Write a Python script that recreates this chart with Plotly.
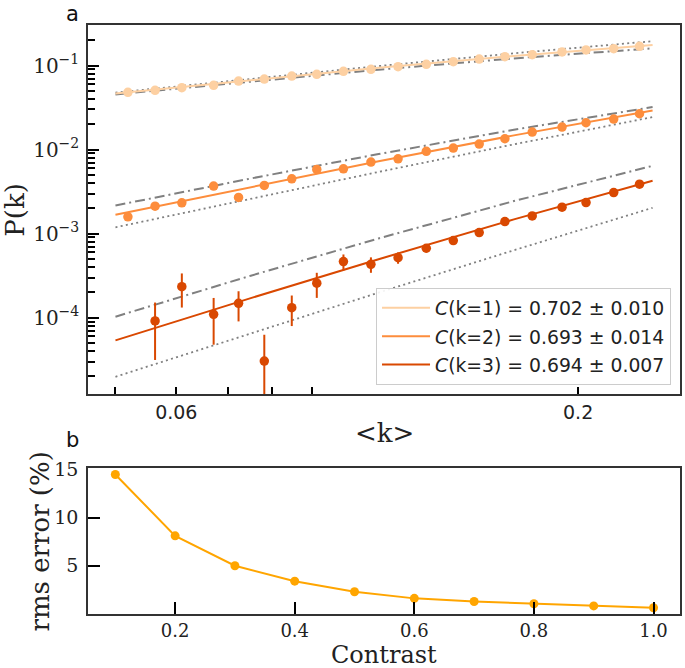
import math
import plotly.graph_objects as go

# ---------------- panel a data ----------------
k_mean = [0.0519, 0.0563, 0.0610, 0.0671, 0.0723, 0.0781, 0.0848, 0.0914, 0.0990, 0.1075,
          0.1166, 0.1269, 0.1376, 0.1487, 0.1606, 0.1743, 0.1906, 0.2048, 0.2225, 0.2404]
p_k1 = [0.0480, 0.0507, 0.0545, 0.0581, 0.0654, 0.0690, 0.0750, 0.0785, 0.0853, 0.0901,
        0.0968, 0.1033, 0.1110, 0.1194, 0.1272, 0.1345, 0.1449, 0.1531, 0.1585, 0.1694]
p_k2 = [1.585e-3, 2.124e-3, 2.327e-3, 3.677e-3, 2.698e-3, 3.750e-3, 4.49e-3, 5.81e-3, 5.90e-3, 7.10e-3,
        7.77e-3, 9.52e-3, 1.042e-2, 1.162e-2, 1.345e-2, 1.615e-2, 1.853e-2, 2.085e-2, 2.307e-2, 2.667e-2]
k_mean_3 = [0.0563, 0.0610, 0.0671, 0.0723, 0.0781, 0.0848, 0.0914, 0.0990, 0.1075, 0.1166,
            0.1269, 0.1376, 0.1487, 0.1606, 0.1743, 0.1906, 0.2048, 0.2225, 0.2404]
p_k3 = [9.14e-5, 2.34e-4, 1.097e-4, 1.483e-4, 3.05e-5, 1.315e-4, 2.57e-4, 4.65e-4, 4.32e-4, 5.18e-4,
        6.70e-4, 8.26e-4, 1.028e-3, 1.390e-3, 1.625e-3, 2.063e-3, 2.339e-3, 3.077e-3, 3.873e-3]
p_k3_err = [6.0e-5, 1.02e-4, 6.2e-5, 5.8e-5, 3.2e-5, 5.2e-5, 8.5e-5, 1.0e-4, 9.0e-5, 8.0e-5,
            7.0e-5, 7.0e-5, 7.0e-5, 7.0e-5, 7.0e-5, 7.0e-5, 7.0e-5, 7.0e-5, 7.0e-5]

curve_x = [0.05, 0.075, 0.11, 0.165, 0.25]
fit_k1 = [0.04645, 0.06719, 0.09375, 0.1302, 0.1758]
fit_k2 = [1.680e-3, 3.604e-3, 7.260e-3, 1.476e-2, 2.912e-2]
fit_k3 = [5.371e-5, 1.708e-4, 4.966e-4, 1.477e-3, 4.254e-3]
poisson_k1 = [0.04756, 0.06958, 0.09854, 0.1399, 0.1947]
poisson_k2 = [1.189e-3, 2.609e-3, 5.420e-3, 1.1542e-2, 2.434e-2]
poisson_k3 = [1.982e-5, 6.523e-5, 1.987e-4, 6.348e-4, 2.028e-3]
thermal_k1 = [0.04535, 0.0649, 0.08928, 0.1216, 0.16]
thermal_k2 = [2.16e-3, 4.528e-3, 8.847e-3, 1.722e-2, 3.2e-2]
thermal_k3 = [1.028e-4, 3.159e-4, 8.768e-4, 2.439e-3, 6.4e-3]

legend_labels = ["<i>C</i>(k=1) = 0.702 ± 0.010",
                 "<i>C</i>(k=2) = 0.693 ± 0.014",
                 "<i>C</i>(k=3) = 0.694 ± 0.007"]
colors = ["#fdd0a2", "#fd8d3c", "#d94801"]

x_tick_vals = [0.06, 0.2]
x_tick_text = ["0.06", "0.2"]
x_minor_vals = [0.05, 0.06, 0.07, 0.08, 0.09]
x_major_vals = [0.1, 0.2]
y_tick_vals = [1e-4, 1e-3, 1e-2, 1e-1]
y_tick_text = ["10<sup>−4</sup>", "10<sup>−3</sup>", "10<sup>−2</sup>", "10<sup>−1</sup>"]

# ---------------- panel b data ----------------
contrast = [0.1, 0.2, 0.3, 0.4, 0.5, 0.6, 0.7, 0.8, 0.9, 1.0]
rms_error = [14.45, 8.1, 5.0, 3.4, 2.3, 1.62, 1.3, 1.06, 0.84, 0.65]
b_x_ticks = [0.2, 0.4, 0.6, 0.8, 1.0]
b_x_text = ["0.2", "0.4", "0.6", "0.8", "1.0"]
b_y_ticks = [5, 10, 15]
b_y_text = ["5", "10", "15"]

SERIF = "DejaVu Serif"
SANS = "DejaVu Sans"
GRAY = "#808080"
AXC = "#333333"
TXT = "#222222"

fig = go.Figure()

# reference curves (gray)
for th, po in [(thermal_k1, poisson_k1), (thermal_k2, poisson_k2), (thermal_k3, poisson_k3)]:
    fig.add_trace(go.Scatter(x=curve_x, y=th, mode="lines", showlegend=False, hoverinfo="skip",
                             line=dict(color=GRAY, width=2, dash="10px,4px,2px,4px"),
                             xaxis="x", yaxis="y"))
    fig.add_trace(go.Scatter(x=curve_x, y=po, mode="lines", showlegend=False, hoverinfo="skip",
                             line=dict(color=GRAY, width=1.8, dash="2px,3.3px"),
                             xaxis="x", yaxis="y"))

# fits (legend)
for fit, col, lab, grp in [(fit_k1, colors[0], legend_labels[0], "g1"),
                           (fit_k2, colors[1], legend_labels[1], "g2"),
                           (fit_k3, colors[2], legend_labels[2], "g3")]:
    fig.add_trace(go.Scatter(x=curve_x, y=fit, mode="lines", name=lab, legendgroup=grp,
                             line=dict(color=col, width=2), xaxis="x", yaxis="y"))

# data points
fig.add_trace(go.Scatter(x=k_mean, y=p_k1, mode="markers", showlegend=False,
                         marker=dict(color=colors[0], size=9.5), xaxis="x", yaxis="y"))
fig.add_trace(go.Scatter(x=k_mean, y=p_k2, mode="markers", showlegend=False,
                         marker=dict(color=colors[1], size=9.5), xaxis="x", yaxis="y"))
fig.add_trace(go.Scatter(x=k_mean_3, y=p_k3, mode="markers", showlegend=False,
                         marker=dict(color=colors[2], size=9.5),
                         error_y=dict(type="data", array=p_k3_err, color=colors[2],
                                      thickness=2, width=0),
                         xaxis="x", yaxis="y"))

# panel b
fig.add_trace(go.Scatter(x=contrast, y=rms_error, mode="lines+markers", showlegend=False,
                         line=dict(color="#ffa500", width=2),
                         marker=dict(color="#ffa500", size=9),
                         xaxis="x2", yaxis="y2"))

xr = [math.log10(0.04605), math.log10(0.2714)]
yr = [-4.908, -0.518]
y_minor = [m * 10 ** e for e in range(-5, 0) for m in range(2, 10)
           if yr[0] < math.log10(m * 10 ** e) < yr[1]]

PLOT_L, PLOT_W, PLOT_T, PLOT_H = 88, 594, 25, 589


def px_x(px):
    return (px - PLOT_L) / PLOT_W


def px_y(py):
    return (PLOT_T + PLOT_H - py) / PLOT_H


fig.update_layout(
    width=685, height=668,
    margin=dict(l=88, r=3, t=25, b=54),
    paper_bgcolor="white", plot_bgcolor="white",
    hovermode=False,
    showlegend=True,
    legend=dict(x=px_x(377), y=px_y(288), xanchor="left", yanchor="top",
                bgcolor="rgba(255,255,255,0.9)", bordercolor="#cccccc", borderwidth=1,
                font=dict(family=SANS, size=18.8, color=TXT),
                itemwidth=48, traceorder="grouped", tracegroupgap=1),
    xaxis=dict(domain=[0, 1], anchor="y", type="log", range=xr,
               tickmode="array", tickvals=x_tick_vals, ticktext=x_tick_text,
               ticks="inside", ticklen=7, tickwidth=2, tickcolor="black",
               tickfont=dict(family=SANS, size=19, color=TXT),
               ticklabelstandoff=0,
               minor=dict(tickmode="array", tickvals=x_minor_vals, ticks="inside",
                          ticklen=7, tickwidth=2, tickcolor="black", showgrid=False),
               showgrid=False, zeroline=False,
               showline=True, linecolor=AXC, linewidth=1.5, mirror=True),
    xaxis3=dict(overlaying="x", anchor="y", type="log", range=xr,
                tickmode="array", tickvals=x_major_vals, showticklabels=False,
                ticks="inside", ticklen=10, tickwidth=2, tickcolor="black",
                showgrid=False, zeroline=False, showline=False),
    yaxis=dict(domain=[0.3735, 1], anchor="x", type="log", range=yr,
               tickmode="array", tickvals=y_tick_vals, ticktext=y_tick_text,
               ticks="inside", ticklen=11, tickwidth=2, tickcolor="black",
               tickfont=dict(family=SERIF, size=20, color=TXT),
               ticklabelstandoff=3,
               minor=dict(tickmode="array", tickvals=y_minor, ticks="inside",
                          ticklen=7, tickwidth=2, tickcolor="black", showgrid=False),
               showgrid=False, zeroline=False,
               showline=True, linecolor=AXC, linewidth=1.5, mirror=True),
    xaxis2=dict(domain=[0, 1], anchor="y2", range=[0.0543, 1.0443],
                tickmode="array", tickvals=b_x_ticks, ticktext=b_x_text,
                ticks="inside", ticklen=12, tickwidth=2, tickcolor="black",
                tickfont=dict(family=SERIF, size=18, color=TXT),
                ticklabelstandoff=0,
                showgrid=False, zeroline=False,
                showline=True, linecolor=AXC, linewidth=1.5, mirror=True),
    yaxis2=dict(domain=[0, 0.2474], anchor="x2", range=[0, 15.1],
                tickmode="array", tickvals=b_y_ticks, ticktext=b_y_text,
                ticks="inside", ticklen=12, tickwidth=2, tickcolor="black",
                tickfont=dict(family=SERIF, size=19, color=TXT),
                ticklabelstandoff=4,
                showgrid=False, zeroline=False,
                showline=True, linecolor=AXC, linewidth=1.5, mirror=True),
    annotations=[
        dict(text="P(k)", x=px_x(14), y=px_y(209.5), xref="paper", yref="paper",
             showarrow=False, textangle=-90, xanchor="center", yanchor="middle",
             font=dict(family=SERIF, size=26, color=TXT)),
        dict(text="&lt;k&gt;", x=px_x(385), y=px_y(433), xref="paper", yref="paper",
             showarrow=False, xanchor="center", yanchor="middle",
             font=dict(family=SERIF, size=26, color=TXT)),
        dict(text="rms error (%)", x=px_x(40), y=px_y(541.3), xref="paper", yref="paper",
             showarrow=False, textangle=-90, xanchor="center", yanchor="middle",
             font=dict(family=SERIF, size=26, color=TXT)),
        dict(text="Contrast", x=px_x(385), y=px_y(655), xref="paper", yref="paper",
             showarrow=False, xanchor="center", yanchor="middle",
             font=dict(family=SERIF, size=24, color=TXT)),
        dict(text="a", x=px_x(72), y=px_y(14), xref="paper", yref="paper", showarrow=False,
             xanchor="center", yanchor="middle", font=dict(family=SANS, size=21, color="#111111")),
        dict(text="b", x=px_x(72), y=px_y(440), xref="paper", yref="paper", showarrow=False,
             xanchor="center", yanchor="middle", font=dict(family=SANS, size=21, color="#111111")),
    ],
)

fig.write_html("out.html",
               config={"displayModeBar": False, "staticPlot": False},
               post_script="document.body.style.margin='0px';"
                           "document.documentElement.style.overflow='hidden';")
